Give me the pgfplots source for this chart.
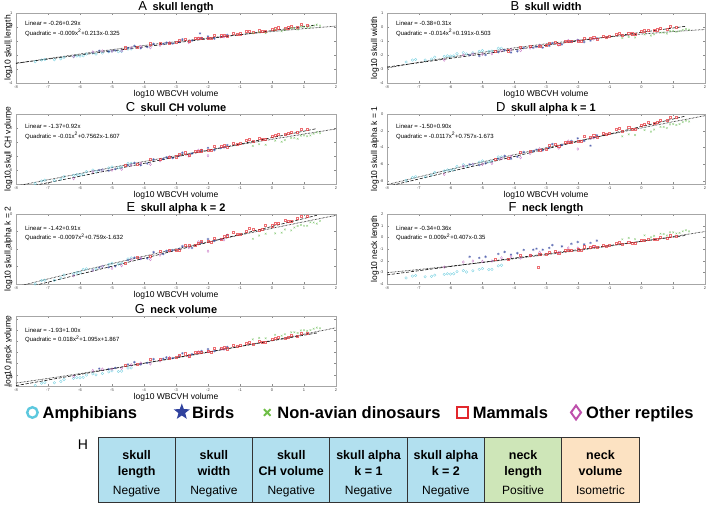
\documentclass[border=0pt]{standalone}
\usepackage{fontspec}
\setmainfont{Liberation Sans}
\usepackage{pgfplots}
\pgfplotsset{compat=1.18}
\usetikzlibrary{shapes.geometric}

\definecolor{amph}{RGB}{80,196,216}
\definecolor{bird}{RGB}{52,70,160}
\definecolor{dino}{RGB}{100,185,80}
\definecolor{mamm}{RGB}{230,50,55}
\definecolor{rept}{RGB}{185,80,180}
\definecolor{amphkey}{RGB}{92,200,222}
\definecolor{birdkey}{RGB}{48,66,158}
\definecolor{dinokey}{RGB}{110,190,70}
\definecolor{mammkey}{RGB}{226,40,45}
\definecolor{reptkey}{RGB}{190,80,172}
\definecolor{cellneg}{RGB}{178,224,239}
\definecolor{cellpos}{RGB}{206,230,184}
\definecolor{celliso}{RGB}{252,226,194}

\pgfplotsset{
  every axis title shift=0pt,
  panel/.style={
    scale only axis, width=320pt, height=70pt,
    xmin=-8, xmax=2, xtick={-8,-7,...,2},
    axis line style={black!35, line width=0.4pt},
    tick style={black!45, line width=0.3pt},
    major tick length=1.8pt, tick align=inside,
    /pgf/number format/assume math mode=true,
    ticklabel style={font=\fontsize{4}{4.5}\selectfont, text=black!75},
    xticklabel style={yshift=0.5pt},
    xlabel={log10 WBCVH volume},
    xlabel style={at={(axis description cs:0.5,-0.16)}, anchor=center,
      font=\fontsize{8.5}{9}\selectfont},
    ylabel style={at={(axis description cs:-0.024,0.5)}, anchor=center, rotate=0,
      font=\fontsize{8.5}{9}\selectfont},
    title style={at={(axis description cs:0.5,1)}, anchor=base, yshift=2.6pt, inner sep=0pt,
      font=\bfseries\fontsize{11}{12}\selectfont},
  },
  rpanel/.style={panel, width=318pt,
    ylabel style={at={(axis description cs:-0.038,0.5)}}},
  amphs/.style={only marks, mark=o, mark size=1.3pt, color=amph,
    mark options={line width=0.35pt, draw opacity=0.75}, forget plot},
  birds/.style={only marks, mark=asterisk, mark size=1.3pt, color=bird,
    mark options={line width=0.35pt, draw opacity=0.8}, forget plot},
  dinos/.style={only marks, mark=x, mark size=1.2pt, color=dino,
    mark options={line width=0.35pt, draw opacity=0.75}, forget plot},
  mamms/.style={only marks, mark=square, mark size=1.05pt, color=mamm,
    mark options={line width=0.35pt, draw opacity=0.7}, forget plot},
  repts/.style={only marks, mark=diamond, mark size=1.35pt, color=rept,
    mark options={line width=0.35pt, draw opacity=0.75}, forget plot},
  linfit/.style={black, line width=0.55pt, dash pattern=on 3.2pt off 1.6pt, forget plot},
  quadfit/.style={black, line width=0.75pt, dash pattern=on 0.5pt off 0.9pt, forget plot},
}
\newcommand{\paneltitle}[2]{{\mdseries\fontsize{13}{14}\selectfont #1}\enspace #2}
% fit equations: y position of the two lines, then the two texts
\newcommand{\fitnote}[4]{%
  \node[anchor=west, inner sep=0pt, font=\fontsize{6}{7}\selectfont] at (axis description cs:0.028,#1) {#3};
  \node[anchor=west, inner sep=0pt, font=\fontsize{6}{7}\selectfont] at (axis description cs:0.028,#2) {#4};}

\begin{document}
\begin{tikzpicture}
\useasboundingbox (0pt,0pt) rectangle (709pt,-507pt);

%% A: skull length
\begin{axis}[panel, at={(16pt,-83pt)}, anchor=south west,
  ymin=-4, ymax=1, ytick={-4,-3,...,1}, ylabel={log10 skull length},
  title={\paneltitle{A}{skull length}}]
\addplot[amphs] coordinates {(-7.4,-2.48) (-7.1,-2.32) (-6.8,-2.34) (-6.5,-2.17) (-6.2,-2.11) (-5.9,-2.06) (-5.6,-1.86) (-5.3,-1.86) (-5.0,-1.72) (-4.7,-1.74) (-4.4,-1.57) (-6.0,-2.08)
  (-7.2,-2.36) (-6.6,-2.27) (-6.1,-2.07) (-5.8,-1.93) (-5.5,-1.94) (-5.1,-1.77) (-4.8,-1.76) (-4.5,-1.57)};
\addplot[birds] coordinates {(-5.4,-1.69) (-4.9,-1.68) (-4.5,-1.49) (-4.1,-1.52) (-3.7,-1.21) (-3.4,-1.20) (-3.1,-1.18) (-2.8,-0.89) (-2.5,-0.97) (-2.2,-0.79) (-2.25,-0.46) (-1.8,-0.82) (-1.4,-0.57)
  (-5.1,-1.75) (-4.3,-1.35) (-3.9,-1.43) (-3.3,-1.12) (-2.9,-1.07) (-2.0,-0.67) (-1.6,-0.72)};
\addplot[repts] coordinates {(-6.2,-2.12) (-5.6,-1.78) (-5.0,-1.73) (-4.4,-1.49) (-3.8,-1.48) (-3.2,-1.11) (-2.6,-1.10) (-2.0,-0.81) (-1.5,-0.70)
  (-5.3,-1.71) (-4.7,-1.70) (-4.1,-1.40) (-3.5,-1.31) (-2.3,-0.81)};
\addplot[mamms] coordinates {(-4.6,-1.48) (-4.2,-1.46) (-3.8,-1.19) (-3.5,-1.18) (-3.2,-1.13) (-2.9,-0.95) (-2.6,-1.02) (-2.4,-0.83) (-2.2,-0.82) (-2.0,-0.80) (-1.8,-0.59) (-1.6,-0.62) (-1.4,-0.66) (-1.2,-0.47) (-1.0,-0.48) (-0.8,-0.33) (-0.6,-0.40) (-0.4,-0.26) (-0.2,-0.33) (0.0,-0.17) (0.2,-0.05) (0.4,-0.09) (0.6,0.04) (0.8,-0.01)
  (-3.0,-1.10) (-2.7,-0.89) (-2.3,-0.82) (-1.9,-0.82) (-1.5,-0.56) (-1.1,-0.52) (-0.7,-0.29) (-0.3,-0.33) (0.1,-0.12) (0.5,-0.05) (0.9,0.17) (1.1,0.14)};
\addplot[dinos] coordinates {(-0.6,-0.45) (-0.2,-0.44) (0.1,-0.19) (0.4,-0.21) (0.6,-0.08) (0.8,-0.18) (1.0,0.03) (1.2,-0.01) (1.4,0.17) (1.5,0.10)
  (-0.4,-0.37) (0.3,-0.31) (0.7,-0.09) (0.9,0.03) (1.1,-0.05) (1.3,0.10)};
\addplot[linfit] coordinates {(-8,-2.58) (1.4,0.146)};
\addplot[quadfit] coordinates {(-8,-2.605) (-7,-2.257) (-6,-1.927) (-5,-1.615) (-4,-1.321) (-3,-1.045) (-2,-0.787) (-1,-0.547) (0,-0.325) (1,-0.121) (2,0.065)};
\fitnote{0.85}{0.72}{Linear = -0.26+0.29x}{Quadratic = -0.009x\textsuperscript{2}+0.213x-0.325}
\end{axis}

%% B: skull width
\begin{axis}[rpanel, at={(387pt,-83pt)}, anchor=south west,
  ymin=-4, ymax=1, ytick={-4,-3,...,1}, ylabel={log10 skull width},
  title={\paneltitle{B}{skull width}}]
\addplot[amphs] coordinates {(-7.4,-2.50) (-7.1,-2.32) (-6.8,-2.36) (-6.5,-2.16) (-6.2,-2.10) (-5.9,-2.06) (-5.6,-1.83) (-5.3,-1.84) (-5.0,-1.68) (-4.7,-1.72) (-4.4,-1.52) (-6.0,-2.08)
  (-7.2,-2.36) (-6.6,-2.29) (-6.1,-2.06) (-5.8,-1.91) (-5.5,-1.92) (-5.1,-1.74) (-4.8,-1.74) (-4.5,-1.52)};
\addplot[birds] coordinates {(-5.4,-2.01) (-4.9,-1.99) (-4.5,-1.80) (-4.1,-1.82) (-3.7,-1.50) (-3.4,-1.48) (-3.1,-1.47) (-2.8,-1.16) (-2.5,-1.24) (-2.2,-1.05) (-1.8,-1.08) (-1.4,-0.82)
  (-5.1,-2.07) (-4.3,-1.66) (-3.9,-1.73) (-3.3,-1.41) (-2.9,-1.34) (-2.0,-0.93) (-1.6,-0.97)};
\addplot[repts] coordinates {(-6.2,-2.36) (-5.6,-2.01) (-5.0,-1.95) (-4.4,-1.70) (-3.8,-1.68) (-3.2,-1.30) (-2.6,-1.28) (-2.0,-0.97) (-1.5,-0.85)
  (-5.3,-1.93) (-4.7,-1.91) (-4.1,-1.61) (-3.5,-1.50) (-2.3,-0.97)};
\addplot[mamms] coordinates {(-4.6,-1.72) (-4.2,-1.69) (-3.8,-1.41) (-3.5,-1.40) (-3.2,-1.35) (-2.9,-1.16) (-2.6,-1.22) (-2.4,-1.03) (-2.2,-1.01) (-2.0,-0.99) (-1.8,-0.78) (-1.6,-0.80) (-1.4,-0.84) (-1.2,-0.64) (-1.0,-0.65) (-0.8,-0.49) (-0.6,-0.56) (-0.4,-0.42) (-0.2,-0.49) (0.0,-0.32) (0.2,-0.20) (0.4,-0.23) (0.6,-0.10) (0.8,-0.14)
  (-3.0,-1.31) (-2.7,-1.10) (-2.3,-1.02) (-1.9,-1.00) (-1.5,-0.74) (-1.1,-0.70) (-0.7,-0.45) (-0.3,-0.48) (0.1,-0.26) (0.5,-0.19) (0.9,0.03) (1.1,0.01)};
\addplot[dinos] coordinates {(-0.6,-0.79) (-0.2,-0.75) (0.1,-0.53) (0.4,-0.52) (0.6,-0.40) (0.8,-0.47) (1.0,-0.28) (1.2,-0.29) (1.4,-0.14) (1.5,-0.19)
  (-0.4,-0.71) (0.3,-0.61) (0.7,-0.40) (0.9,-0.29) (1.1,-0.34) (1.3,-0.20)};
\addplot[linfit] coordinates {(-8,-2.86) (1.4,0.054)};
\addplot[quadfit] coordinates {(-8,-2.927) (-7,-2.526) (-6,-2.153) (-5,-1.808) (-4,-1.491) (-3,-1.202) (-2,-0.941) (-1,-0.708) (0,-0.503) (1,-0.326) (2,-0.177)};
\fitnote{0.85}{0.72}{Linear = -0.38+0.31x}{Quadratic = -0.014x\textsuperscript{2}+0.191x-0.503}
\end{axis}

%% C: skull convex hull volume
\begin{axis}[panel, at={(16pt,-184pt)}, anchor=south west,
  ymin=-8, ymax=2, ytick={-8,-6,...,2}, ylabel={log10 skull CH volume},
  title={\paneltitle{C}{skull CH volume}}]
\addplot[amphs] coordinates {(-7.4,-7.94) (-7.1,-7.45) (-6.8,-7.51) (-6.5,-6.96) (-6.2,-6.77) (-5.9,-6.62) (-5.6,-6.01) (-5.3,-5.98) (-5.0,-5.55) (-4.7,-5.60) (-4.4,-5.06) (-6.0,-6.68)
  (-7.2,-7.57) (-6.6,-7.29) (-6.1,-6.65) (-5.8,-6.23) (-5.5,-6.22) (-5.1,-5.70) (-4.8,-5.67) (-4.5,-5.06)};
\addplot[birds] coordinates {(-5.4,-6.03) (-4.9,-5.88) (-4.5,-5.34) (-4.1,-5.32) (-3.7,-4.50) (-3.4,-4.40) (-3.1,-4.30) (-2.8,-3.53) (-2.5,-3.64) (-2.2,-3.15) (-1.8,-3.14) (-1.4,-2.45)
  (-5.1,-6.10) (-4.3,-4.98) (-3.9,-5.07) (-3.3,-4.20) (-2.9,-3.97) (-2.0,-2.83) (-1.6,-2.85)};
\addplot[repts] coordinates {(-6.2,-7.23) (-5.6,-6.24) (-5.0,-6.01) (-4.4,-5.30) (-3.8,-5.19) (-3.2,-4.11) (-2.6,-4.00) (-2.0,-3.95) (-1.5,-2.75)
  (-5.3,-6.01) (-4.7,-5.89) (-4.1,-5.02) (-3.5,-4.67) (-2.3,-3.17)};
\addplot[mamms] coordinates {(-4.6,-5.36) (-4.2,-5.23) (-3.8,-4.48) (-3.5,-4.41) (-3.2,-4.22) (-2.9,-3.71) (-2.6,-3.82) (-2.4,-3.31) (-2.2,-3.24) (-2.0,-3.15) (-1.8,-2.61) (-1.6,-2.63) (-1.4,-2.69) (-1.2,-2.17) (-1.0,-2.17) (-0.8,-1.75) (-0.6,-1.89) (-0.4,-1.50) (-0.2,-1.64) (0.0,-1.19) (0.2,-0.86) (0.4,-0.91) (0.6,-0.55) (0.8,-0.63)
  (-3.0,-4.10) (-2.7,-3.52) (-2.3,-3.28) (-1.9,-3.18) (-1.5,-2.45) (-1.1,-2.29) (-0.7,-1.62) (-0.3,-1.65) (0.1,-1.04) (0.5,-0.79) (0.9,-0.18) (1.1,-0.21)};
\addplot[dinos] coordinates {(-0.6,-2.56) (-0.2,-2.40) (0.1,-1.80) (0.4,-1.73) (0.6,-1.40) (0.8,-1.54) (1.0,-1.06) (1.2,-1.06) (1.4,-0.63) (1.5,-0.75)
  (-0.4,-2.32) (0.3,-1.97) (0.7,-1.40) (0.9,-1.09) (1.1,-1.18) (1.3,-0.81)};
\addplot[linfit] coordinates {(-8,-8.73) (1.4,-0.082)};
\addplot[quadfit] coordinates {(-8,-8.297) (-7,-7.390) (-6,-6.504) (-5,-5.638) (-4,-4.792) (-3,-3.966) (-2,-3.159) (-1,-2.373) (0,-1.607) (1,-0.861) (2,-0.135)};
\fitnote{0.83}{0.69}{Linear = -1.37+0.92x}{Quadratic = -0.01x\textsuperscript{2}+0.7562x-1.607}
\end{axis}

%% D: skull alpha shape, k = 1
\begin{axis}[rpanel, at={(387pt,-184pt)}, anchor=south west,
  ymin=-8.4, ymax=0, ytick={-8,-6,...,0}, ylabel={log10 skull alpha k = 1},
  title={\paneltitle{D}{skull alpha k = 1}}]
\addplot[amphs] coordinates {(-7.4,-7.97) (-7.1,-7.49) (-6.8,-7.55) (-6.5,-7.01) (-6.2,-6.83) (-5.9,-6.68) (-5.6,-6.08) (-5.3,-6.05) (-5.0,-5.63) (-4.7,-5.69) (-4.4,-5.15) (-6.0,-6.74)
  (-7.2,-7.61) (-6.6,-7.34) (-6.1,-6.71) (-5.8,-6.29) (-5.5,-6.29) (-5.1,-5.78) (-4.8,-5.75) (-4.5,-5.15)};
\addplot[birds] coordinates {(-5.4,-6.05) (-4.9,-5.92) (-4.5,-5.38) (-4.1,-5.37) (-3.7,-4.56) (-3.4,-4.46) (-3.1,-4.37) (-2.8,-3.61) (-2.5,-3.72) (-2.2,-3.24) (-1.8,-3.23) (-1.6,-3.80) (-1.4,-2.56)
  (-5.1,-6.13) (-4.3,-5.03) (-3.9,-5.12) (-3.3,-4.27) (-2.9,-4.05) (-2.0,-2.92) (-1.6,-2.95)};
\addplot[repts] coordinates {(-6.2,-7.24) (-5.6,-6.26) (-5.0,-6.04) (-4.4,-5.34) (-3.8,-5.24) (-3.2,-4.18) (-2.6,-4.08) (-2.0,-4.20) (-1.5,-2.85)
  (-5.3,-6.03) (-4.7,-5.93) (-4.1,-5.07) (-3.5,-4.73) (-2.3,-3.25)};
\addplot[mamms] coordinates {(-4.6,-5.40) (-4.2,-5.28) (-3.8,-4.53) (-3.5,-4.47) (-3.2,-4.29) (-2.9,-3.78) (-2.6,-3.90) (-2.4,-3.39) (-2.2,-3.33) (-2.0,-3.24) (-1.8,-2.70) (-1.6,-2.73) (-1.4,-2.79) (-1.2,-2.28) (-1.0,-2.28) (-0.8,-1.86) (-0.6,-2.01) (-0.4,-1.62) (-0.2,-1.77) (0.0,-1.32) (0.2,-0.99) (0.4,-1.05) (0.6,-0.69) (0.8,-0.78)
  (-3.0,-4.17) (-2.7,-3.60) (-2.3,-3.36) (-1.9,-3.27) (-1.5,-2.55) (-1.1,-2.40) (-0.7,-1.74) (-0.3,-1.77) (0.1,-1.17) (0.5,-0.93) (0.9,-0.33) (1.1,-0.36)};
\addplot[dinos] coordinates {(-0.6,-2.68) (-0.2,-2.53) (0.1,-1.93) (0.4,-1.87) (0.6,-1.54) (0.8,-1.69) (1.0,-1.21) (1.2,-1.21) (1.4,-0.79) (1.5,-0.91)
  (-0.4,-2.44) (0.3,-2.11) (0.7,-1.54) (0.9,-1.24) (1.1,-1.33) (1.3,-0.97)};
\addplot[linfit] coordinates {(-8,-8.70) (1.4,-0.24)};
\addplot[quadfit] coordinates {(-8,-8.478) (-7,-7.545) (-6,-6.636) (-5,-5.751) (-4,-4.888) (-3,-4.049) (-2,-3.234) (-1,-2.442) (0,-1.673) (1,-0.928) (2,-0.206)};
\fitnote{0.83}{0.69}{Linear = -1.50+0.90x}{Quadratic = -0.0117x\textsuperscript{2}+0.757x-1.673}
\end{axis}

%% E: skull alpha shape, k = 2
\begin{axis}[panel, at={(16pt,-284pt)}, anchor=south west,
  ymin=-8, ymax=0, ytick={-8,-6,...,0}, ylabel={log10 skull alpha k = 2},
  title={\paneltitle{E}{skull alpha k = 2}}]
\addplot[amphs] coordinates {(-7.4,-7.99) (-7.1,-7.57) (-6.8,-7.57) (-6.5,-6.97) (-6.2,-6.84) (-5.9,-6.33) (-5.6,-6.39) (-5.3,-5.99) (-5.0,-5.63) (-4.7,-5.63) (-4.4,-5.02) (-6.0,-6.69)
  (-7.2,-7.60) (-6.6,-7.33) (-6.1,-6.69) (-5.8,-6.27) (-5.5,-6.27) (-5.1,-5.75) (-4.8,-5.72) (-4.5,-5.12)};
\addplot[birds] coordinates {(-5.4,-6.13) (-4.9,-5.99) (-4.5,-5.28) (-4.1,-5.12) (-3.7,-4.37) (-3.4,-4.59) (-3.1,-4.14) (-2.8,-3.69) (-2.5,-3.88) (-2.2,-3.25) (-1.8,-3.06) (-1.4,-2.38)
  (-5.1,-6.10) (-4.3,-4.99) (-3.9,-5.08) (-3.3,-4.22) (-2.9,-3.99) (-2.0,-2.86) (-1.6,-2.88)};
\addplot[repts] coordinates {(-6.2,-7.06) (-5.6,-6.44) (-5.0,-6.21) (-4.4,-5.22) (-3.8,-5.20) (-3.2,-4.21) (-2.6,-3.83) (-2.0,-4.25) (-1.5,-2.95)
  (-5.3,-6.00) (-4.7,-5.90) (-4.1,-5.03) (-3.5,-4.69) (-2.3,-3.19)};
\addplot[mamms] coordinates {(-4.6,-5.61) (-4.2,-4.97) (-3.8,-4.79) (-3.5,-4.28) (-3.2,-4.15) (-2.9,-4.15) (-2.6,-3.55) (-2.4,-3.57) (-2.2,-3.06) (-2.0,-3.12) (-1.8,-2.76) (-1.6,-2.91) (-1.4,-2.48) (-1.2,-2.09) (-1.0,-2.27) (-0.8,-2.00) (-0.6,-1.70) (-0.4,-1.84) (-0.2,-1.27) (0.0,-1.33) (0.2,-1.06) (0.4,-0.67) (0.6,-0.87) (0.8,-0.45)
  (-3.0,-4.12) (-2.7,-3.55) (-2.3,-3.30) (-1.9,-3.21) (-1.5,-2.49) (-1.1,-2.33) (-0.7,-1.67) (-0.3,-1.69) (0.1,-1.09) (0.5,-0.85) (0.9,-0.24) (1.1,-0.27)};
\addplot[dinos] coordinates {(-0.6,-2.83) (-0.2,-2.25) (0.1,-2.22) (0.4,-1.77) (0.6,-1.88) (0.8,-1.37) (1.0,-1.34) (1.2,-0.95) (1.4,-1.10) (1.5,-0.80)
  (-0.4,-2.46) (0.3,-2.13) (0.7,-1.55) (0.9,-1.25) (1.1,-1.34) (1.3,-0.98)};
\addplot[linfit] coordinates {(-8,-8.70) (1.4,-0.146)};
\addplot[quadfit] coordinates {(-8,-8.325) (-7,-7.420) (-6,-6.535) (-5,-5.670) (-4,-4.823) (-3,-3.996) (-2,-3.189) (-1,-2.401) (0,-1.632) (1,-0.883) (2,-0.153)};
\fitnote{0.80}{0.67}{Linear = -1.42+0.91x}{Quadratic = -0.0097x\textsuperscript{2}+0.759x-1.632}
\end{axis}

%% F: neck length
\begin{axis}[rpanel, at={(387pt,-284pt)}, anchor=south west,
  ymin=-4, ymax=2, ytick={-4,-3,...,2}, ylabel={log10 neck length}, xlabel={},
  title={\paneltitle{F}{neck length}}]
\addplot[amphs] coordinates {(-7.4,-3.48) (-7.1,-3.27) (-6.8,-3.38) (-6.5,-3.24) (-6.2,-3.17) (-5.9,-3.12) (-5.6,-2.85) (-5.3,-2.86) (-5.0,-2.68) (-4.7,-2.74) (-4.4,-2.39) (-6.0,-3.15)
  (-7.2,-3.32) (-6.6,-3.34) (-6.1,-3.12) (-5.8,-2.94) (-5.5,-2.97) (-5.1,-2.75) (-4.8,-2.76) (-4.5,-2.44)};
\addplot[birds] coordinates {(-5.4,-1.66) (-4.9,-1.66) (-4.5,-1.42) (-4.1,-1.48) (-3.7,-1.07) (-3.4,-1.06) (-3.1,-1.06) (-2.8,-0.67) (-2.5,-0.78) (-2.2,-0.55) (-1.8,-0.61) (-1.4,-0.28)
  (-5.1,-1.76) (-4.3,-1.25) (-3.9,-1.36) (-3.3,-0.97) (-2.9,-0.90) (-2.0,-0.40) (-1.6,-0.48)};
\addplot[repts] coordinates {(-6.2,-2.55) (-5.6,-2.12) (-5.0,-2.06) (-4.4,-1.76) (-3.8,-1.77) (-3.2,-1.29) (-2.6,-1.30) (-2.0,-0.92) (-1.5,-0.78)
  (-5.3,-2.03) (-4.7,-2.03) (-4.1,-1.66) (-3.5,-1.54) (-2.3,-0.91)};
\addplot[mamms] coordinates {(-4.6,-1.90) (-4.2,-1.88) (-3.8,-1.54) (-3.5,-1.54) (-3.25,-2.55) (-3.2,-1.47) (-2.9,-1.24) (-2.6,-1.33) (-2.4,-1.09) (-2.2,-1.08) (-2.0,-1.06) (-1.8,-0.80) (-1.6,-0.84) (-1.4,-0.88) (-1.2,-0.65) (-1.0,-0.67) (-0.8,-0.47) (-0.6,-0.57) (-0.4,-0.39) (-0.2,-0.48) (0.0,-0.28) (0.2,-0.13) (0.4,-0.18) (0.6,-0.01) (0.8,-0.08)
  (-3.0,-1.43) (-2.7,-1.17) (-2.3,-1.09) (-1.9,-1.08) (-1.5,-0.76) (-1.1,-0.72) (-0.7,-0.42) (-0.3,-0.47) (0.1,-0.21) (0.5,-0.13) (0.9,0.14) (1.1,0.11)};
\addplot[dinos] coordinates {(-0.6,-0.17) (-0.2,-0.16) (0.1,0.17) (0.4,0.13) (0.6,0.31) (0.8,0.16) (1.0,0.43) (1.2,0.38) (1.4,0.61) (1.5,0.51)
  (-0.4,-0.05) (0.3,0.00) (0.7,0.28) (0.9,0.43) (1.1,0.33) (1.3,0.52)};
\addplot[linfit] coordinates {(-8,-3.22) (1.4,0.164)};
\addplot[quadfit] coordinates {(-8,-3.030) (-7,-2.758) (-6,-2.468) (-5,-2.160) (-4,-1.834) (-3,-1.490) (-2,-1.128) (-1,-0.748) (0,-0.350) (1,0.066) (2,0.500)};
\fitnote{0.80}{0.67}{Linear = -0.34+0.36x}{Quadratic = 0.009x\textsuperscript{2}+0.407x-0.35}
\end{axis}

%% G: neck volume, with the group key below it
\begin{axis}[panel, at={(16pt,-386pt)}, anchor=south west,
  ymin=-10, ymax=2.5, ytick={-10,-8,...,2}, ylabel={log10 neck volume},
  title={\paneltitle{G}{neck volume}},
  legend columns=5,
  legend style={at={(axis description cs:0.01875,-0.371)}, anchor=west,
    draw=none, fill=none, inner sep=0pt, column sep=0pt,
    nodes={inner sep=0pt, text depth=0pt},
    font=\bfseries\fontsize{16.5}{18}\selectfont},
  ]
\addplot[amphs] coordinates {(-7.4,-9.89) (-7.1,-9.38) (-6.8,-9.41) (-6.5,-8.84) (-6.2,-8.63) (-5.9,-8.45) (-5.6,-7.82) (-5.3,-7.76) (-5.0,-7.31) (-4.7,-7.34) (-4.4,-6.77) (-6.0,-8.52)
  (-7.2,-9.51) (-6.6,-9.18) (-6.1,-8.50) (-5.8,-8.05) (-5.5,-8.02) (-5.1,-7.47) (-4.8,-7.41) (-4.5,-6.78)};
\addplot[birds] coordinates {(-5.4,-6.89) (-4.9,-6.75) (-4.5,-6.15) (-4.1,-6.15) (-3.7,-5.23) (-3.4,-5.13) (-3.1,-5.03) (-2.8,-4.17) (-2.5,-4.31) (-2.2,-3.77) (-1.8,-3.77) (-1.4,-3.01)
  (-5.1,-6.99) (-4.3,-5.75) (-3.9,-5.87) (-3.3,-4.91) (-2.9,-4.67) (-2.0,-3.41) (-1.6,-3.45)};
\addplot[repts] coordinates {(-6.2,-8.29) (-5.6,-7.25) (-5.0,-6.97) (-4.4,-6.21) (-3.8,-6.05) (-3.2,-4.93) (-2.6,-4.77) (-2.0,-3.85) (-1.5,-3.43)
  (-5.3,-6.99) (-4.7,-6.83) (-4.1,-5.91) (-3.5,-5.51) (-2.3,-3.91)};
\addplot[mamms] coordinates {(-4.6,-6.23) (-4.2,-6.11) (-3.8,-5.25) (-3.5,-5.20) (-3.2,-5.00) (-2.9,-4.42) (-2.6,-4.58) (-2.4,-3.99) (-2.2,-3.93) (-2.0,-3.84) (-1.8,-3.22) (-1.6,-3.26) (-1.4,-3.34) (-1.2,-2.76) (-1.0,-2.77) (-0.8,-2.29) (-0.6,-2.47) (-0.4,-2.03) (-0.2,-2.21) (0.0,-1.70) (0.2,-1.32) (0.4,-1.40) (0.6,-0.99) (0.8,-1.11)
  (-3.0,-4.87) (-2.7,-4.22) (-2.3,-3.96) (-1.9,-3.88) (-1.5,-3.06) (-1.1,-2.90) (-0.7,-2.15) (-0.3,-2.21) (0.1,-1.53) (0.5,-1.27) (0.9,-0.59) (1.1,-0.63)};
\addplot[dinos] coordinates {(-0.6,-1.67) (-0.2,-1.48) (0.1,-0.85) (0.4,-0.76) (0.6,-0.41) (0.8,-0.54) (1.0,-0.04) (1.2,-0.02) (1.4,0.42) (1.5,0.31)
  (-0.4,-1.41) (0.3,-1.01) (0.7,-0.40) (0.9,-0.08) (1.1,-0.15) (1.3,0.23)};
\addplot[linfit] coordinates {(-8,-9.93) (1.4,-0.53)};
\addplot[quadfit] coordinates {(-8,-9.475) (-7,-8.650) (-6,-7.789) (-5,-6.892) (-4,-5.959) (-3,-4.990) (-2,-3.985) (-1,-2.944) (0,-1.867) (1,-0.754) (2,0.395)};
\fitnote{0.80}{0.67}{Linear = -1.93+1.00x}{Quadratic = 0.018x\textsuperscript{2}+1.095x+1.867}
% group key
\addlegendimage{legend image code/.code={\path (-10pt,0) (10pt,0);
  \node[circle, draw=amphkey, line width=2.4pt, minimum size=10.5pt, inner sep=0pt] at (0,0) {};}}
\addlegendentry{\makebox[129pt][l]{Amphibians}}
\addlegendimage{legend image code/.code={\path (-10pt,0) (10pt,0);
  \node[star, star points=5, star point ratio=2.4, fill=birdkey, minimum size=17pt, inner sep=0pt] at (0,0.5pt) {};}}
\addlegendentry{\makebox[65pt][l]{Birds}}
\addlegendimage{legend image code/.code={\path (-10pt,0) (10pt,0);
  \draw[dinokey, line width=2pt] (-3.3pt,-3.3pt) -- (3.3pt,3.3pt) (-3.3pt,3.3pt) -- (3.3pt,-3.3pt);}}
\addlegendentry{\makebox[175pt][l]{Non-avian dinosaurs}}
\addlegendimage{legend image code/.code={\path (-10pt,0) (10pt,0);
  \draw[mammkey, line width=2.3pt] (-5.3pt,-5.3pt) rectangle (5.3pt,5.3pt);}}
\addlegendentry{\makebox[93pt][l]{Mammals}}
\addlegendimage{legend image code/.code={\path (-10pt,0) (10pt,0);
  \draw[reptkey, line width=2pt] (0,-7pt) -- (5pt,0) -- (0,7pt) -- (-5pt,0) -- cycle;}}
\addlegendentry{\makebox[115pt][l]{Other reptiles}}
\end{axis}

%% H: summary of the allometric scaling per measure
\node[font=\fontsize{14}{14}\selectfont, anchor=center] at (83pt,-445pt) {H};
\foreach \i/\fillc/\top/\bot/\res in {
  0/cellneg/skull/length/Negative,
  1/cellneg/skull/width/Negative,
  2/cellneg/skull/CH volume/Negative,
  3/cellneg/skull alpha/k = 1/Negative,
  4/cellneg/skull alpha/k = 2/Negative,
  5/cellpos/neck/length/Positive,
  6/celliso/neck/volume/Isometric}{
  \pgfmathsetmacro{\xl}{98+77.3*\i}
  \pgfmathsetmacro{\xc}{\xl+38.65}
  \fill[\fillc] (\xl pt,-437pt) rectangle ++(77.3pt,-65pt);
  \node[font=\bfseries\fontsize{12.5}{12.5}\selectfont, anchor=base] at (\xc pt,-459.5pt) {\top};
  \node[font=\bfseries\fontsize{12.5}{12.5}\selectfont, anchor=base] at (\xc pt,-475.5pt) {\bot};
  \node[font=\fontsize{12}{12}\selectfont, anchor=base] at (\xc pt,-494.5pt) {\res};
}
\draw[black!80, line width=0.9pt] (98pt,-437pt) rectangle (639.1pt,-502pt);
\foreach \i in {1,...,6}{
  \pgfmathsetmacro{\xl}{98+77.3*\i}
  \draw[black!80, line width=0.9pt] (\xl pt,-437pt) -- ++(0,-65pt);
}
\end{tikzpicture}
\end{document}
